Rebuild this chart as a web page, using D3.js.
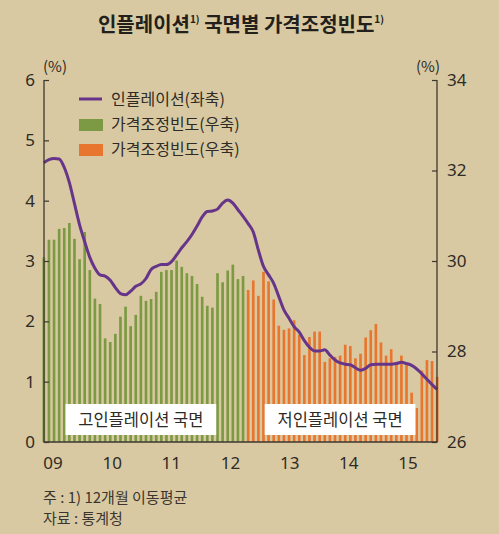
<!DOCTYPE html>
<html>
<head>
<meta charset="utf-8">
<script src="https://cdn.jsdelivr.net/npm/d3@7"></script>
<style>
  body { margin: 0; background: #d9c9a2; }
  svg { display: block; font-family: "Noto Sans CJK KR", "Noto Sans", sans-serif; }
</style>
</head>
<body>
<svg id="chart" width="499" height="534"></svg>
<script>
// Inflation (left axis, %), 12-month moving average, Jan 2009 - Jun 2015
var inflation = [4.63, 4.68, 4.70, 4.69, 4.55, 4.30, 3.95, 3.60, 3.32, 3.06, 2.88, 2.77,
                 2.75, 2.68, 2.56, 2.46, 2.44, 2.50, 2.58, 2.62, 2.71, 2.86, 2.91, 2.94,
                 2.94, 2.99, 3.10, 3.22, 3.32, 3.44, 3.58, 3.73, 3.82, 3.83, 3.86, 3.96,
                 4.01, 3.96, 3.85, 3.74, 3.62, 3.48, 3.18, 2.91, 2.77, 2.63, 2.41, 2.19,
                 2.05, 1.91, 1.82, 1.68, 1.57, 1.51, 1.51, 1.53, 1.44, 1.36, 1.31, 1.29,
                 1.28, 1.23, 1.19, 1.22, 1.28, 1.29, 1.29, 1.29, 1.29, 1.30, 1.32, 1.30,
                 1.27, 1.21, 1.13, 1.04, 0.95, 0.87];

// Price adjustment frequency (right axis, %) - high inflation phase
var freqHigh = [30.08, 30.47, 30.47, 30.71, 30.73, 30.84, 30.49, 30.04, 30.64, 29.80, 29.17, 29.05,
                28.29, 28.21, 28.39, 28.77, 28.99, 28.56, 28.81, 29.23, 29.12, 29.16, 29.32, 29.76,
                29.80, 29.80, 30.01, 29.87, 29.73, 29.67, 29.49, 29.21, 29.01, 28.97, 29.73, 29.53,
                29.79, 29.92, 29.60, 29.67];

// Price adjustment frequency (right axis, %) - low inflation phase
var freqLow = [29.36, 29.57, 29.23, 29.76, 29.55, 29.15, 28.57, 28.48,
               28.51, 28.69, 28.37, 27.92, 28.32, 28.44, 28.44, 27.77, 27.85, 27.88, 27.91, 28.15,
               28.12, 27.85, 27.95, 28.31, 28.47, 28.61, 28.20, 27.91, 28.05, 27.76, 27.91, 27.71,
               27.09, 26.75, 27.58, 27.81, 27.79, 27.44];

var years = [2009, 2010, 2011, 2012, 2013, 2014, 2015];
var yearLabels = ['09', '10', '11', '12', '13', '14', '15'];
var leftTicks = [0, 1, 2, 3, 4, 5, 6];
var rightTicks = [26, 28, 30, 32, 34];

var colors = { line: '#66358a', high: '#7c9a43', low: '#e8762e', axis: '#3c3830', text: '#2e2b26' };

var svg = d3.select('#chart');

// plot box
var plotLeft = 44, plotRight = 437, plotTop = 80, plotBottom = 442;

var months = d3.range(inflation.length);
var x = d3.scaleBand().domain(months).range([42.5, 438.5]).paddingInner(0.48);
var yLeft = d3.scaleLinear().domain([0, 6]).range([plotBottom, plotTop]);
var yRight = d3.scaleLinear().domain([26, 34]).range([plotBottom, plotTop]);
var xYear = d3.scaleLinear().domain([2009, 2015]).range([53, 408]);

// bars - high inflation phase then low inflation phase
var bars = freqHigh.map(function(v, i) { return {i: i, v: v, c: colors.high}; })
  .concat(freqLow.map(function(v, i) { return {i: i + freqHigh.length, v: v, c: colors.low}; }));

svg.append('g').selectAll('rect')
  .data(bars)
  .join('rect')
  .attr('x', function(d) { return x(d.i); })
  .attr('width', x.bandwidth())
  .attr('y', function(d) { return yRight(d.v); })
  .attr('height', function(d) { return yRight(26) - yRight(d.v); })
  .attr('fill', function(d) { return d.c; });

// phase label boxes
var phases = [
  {label: '고인플레이션 국면', from: 4.5, to: 34},
  {label: '저인플레이션 국면', from: 43.5, to: 73}
];
function phaseX(d) { return x(Math.floor(d.from)) + (d.from % 1) * x.step(); }
var phaseG = svg.append('g').selectAll('g').data(phases).join('g');
phaseG.append('rect')
  .attr('x', phaseX)
  .attr('width', function(d) { return (d.to - d.from) * x.step(); })
  .attr('y', 404)
  .attr('height', 31)
  .attr('fill', '#fff');
phaseG.append('text')
  .attr('x', function(d) { return phaseX(d) + (d.to - d.from) * x.step() / 2; })
  .attr('y', 425.5)
  .attr('text-anchor', 'middle')
  .attr('font-size', 16.5)
  .attr('fill', colors.text)
  .text(function(d) { return d.label; });

// inflation line
var line = d3.line()
  .x(function(d, i) { return x(i) + x.bandwidth() / 2; })
  .y(function(d) { return yLeft(d); })
  .curve(d3.curveMonotoneX);

svg.append('path')
  .datum(inflation)
  .attr('d', line)
  .attr('fill', 'none')
  .attr('stroke', colors.line)
  .attr('stroke-width', 3)
  .attr('stroke-linejoin', 'round');

// axes
var leftAxis = d3.axisLeft(yLeft).tickValues(leftTicks).tickFormat(d3.format('d')).tickSize(-5).tickPadding(9);
var rightAxis = d3.axisRight(yRight).tickValues(rightTicks).tickFormat(d3.format('d')).tickSize(-5).tickPadding(10);

var gl = svg.append('g').attr('transform', 'translate(' + plotLeft + ',0)').call(leftAxis);
var gr = svg.append('g').attr('transform', 'translate(' + plotRight + ',0)').call(rightAxis);
[gl, gr].forEach(function(g) {
  g.select('.domain').remove();
  g.selectAll('line').attr('stroke', colors.axis).attr('stroke-width', 1.2);
  g.selectAll('text').attr('font-size', 17).attr('fill', colors.text)
    .attr('font-family', '"Noto Sans", sans-serif');
});

// axis frame lines (left, bottom, right)
svg.append('path')
  .attr('d', 'M' + plotLeft + ',' + plotTop + 'V' + plotBottom + 'H' + plotRight + 'V' + plotTop)
  .attr('fill', 'none')
  .attr('stroke', colors.axis)
  .attr('stroke-width', 1.3);

// year labels
svg.append('g').selectAll('text')
  .data(years)
  .join('text')
  .attr('x', function(d) { return xYear(d); })
  .attr('y', 469)
  .attr('text-anchor', 'middle')
  .attr('font-size', 17)
  .attr('font-family', '"Noto Sans", sans-serif')
  .attr('fill', colors.text)
  .text(function(d, i) { return yearLabels[i]; });

// unit labels
svg.append('text').attr('x', 55).attr('y', 72).attr('text-anchor', 'middle')
  .attr('font-size', 15).attr('fill', colors.text).text('(%)');
svg.append('text').attr('x', 428).attr('y', 72).attr('text-anchor', 'middle')
  .attr('font-size', 15).attr('fill', colors.text).text('(%)');

// title
var title = svg.append('text')
  .attr('x', 241).attr('y', 32)
  .attr('text-anchor', 'middle')
  .attr('font-size', 20)
  .attr('font-weight', 'bold')
  .attr('fill', '#231f1a');
title.append('tspan').text('인플레이션');
title.append('tspan').attr('font-size', 10).attr('dy', -9).text('1)');
title.append('tspan').attr('dy', 9).text(' 국면별 가격조정빈도');
title.append('tspan').attr('font-size', 10).attr('dy', -9).text('1)');

// legend
var legend = svg.append('g').attr('transform', 'translate(79,0)');
legend.append('line').attr('x1', 0).attr('x2', 23).attr('y1', 99).attr('y2', 99)
  .attr('stroke', colors.line).attr('stroke-width', 3);
legend.append('rect').attr('x', 0).attr('y', 119).attr('width', 24).attr('height', 12).attr('fill', colors.high);
legend.append('rect').attr('x', 0).attr('y', 144).attr('width', 24).attr('height', 12).attr('fill', colors.low);
var legendText = ['인플레이션(좌축)', '가격조정빈도(우축)', '가격조정빈도(우축)'];
legend.selectAll('text.lg').data(legendText).join('text')
  .attr('class', 'lg')
  .attr('x', 32)
  .attr('y', function(d, i) { return 105 + i * 25; })
  .attr('font-size', 16)
  .attr('fill', colors.text)
  .text(function(d) { return d; });

// footnotes
svg.append('text').attr('x', 43).attr('y', 503).attr('font-size', 15).attr('fill', '#3a362f')
  .text('주 : 1) 12개월 이동평균');
svg.append('text').attr('x', 43).attr('y', 524).attr('font-size', 15).attr('fill', '#3a362f')
  .text('자료 : 통계청');
</script>
</body>
</html>
